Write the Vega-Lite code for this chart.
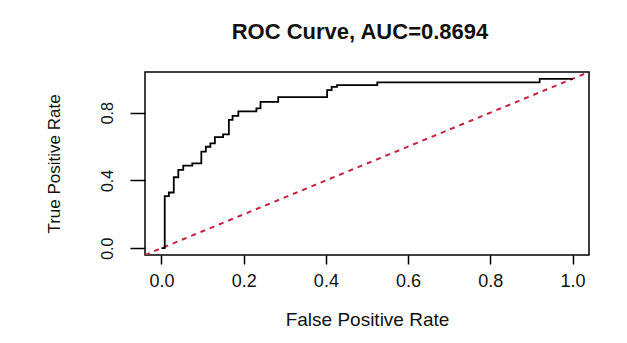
{
  "$schema": "https://vega.github.io/schema/vega-lite/v6.json",
  "width": 444,
  "height": 183,
  "autosize": {"type": "none"},
  "padding": {"left": 145, "top": 72, "right": 38, "bottom": 88},
  "background": "white",
  "title": {
    "text": "ROC Curve, AUC=0.8694",
    "font": "Liberation Sans",
    "fontSize": 22,
    "fontWeight": "bold",
    "color": "#111111",
    "anchor": "middle",
    "dx": -7,
    "offset": 28
  },
  "config": {
    "view": {"stroke": "#000000", "strokeWidth": 1.5},
    "axis": {
      "grid": false,
      "domain": false,
      "tickColor": "#000000",
      "tickWidth": 1.5,
      "labelFont": "Liberation Sans",
      "titleFont": "Liberation Sans",
      "labelColor": "#111111",
      "titleColor": "#111111",
      "titleFontWeight": "normal"
    }
  },
  "datasets": {
    "roc": [
      {"fpr": 0.0, "tpr": 0.0},
      {"fpr": 0.008, "tpr": 0.308},
      {"fpr": 0.018, "tpr": 0.329},
      {"fpr": 0.030, "tpr": 0.419},
      {"fpr": 0.041, "tpr": 0.462},
      {"fpr": 0.053, "tpr": 0.488},
      {"fpr": 0.075, "tpr": 0.501},
      {"fpr": 0.097, "tpr": 0.570},
      {"fpr": 0.108, "tpr": 0.599},
      {"fpr": 0.119, "tpr": 0.619},
      {"fpr": 0.130, "tpr": 0.656},
      {"fpr": 0.150, "tpr": 0.672},
      {"fpr": 0.164, "tpr": 0.757},
      {"fpr": 0.173, "tpr": 0.781},
      {"fpr": 0.187, "tpr": 0.808},
      {"fpr": 0.231, "tpr": 0.825},
      {"fpr": 0.241, "tpr": 0.864},
      {"fpr": 0.284, "tpr": 0.892},
      {"fpr": 0.403, "tpr": 0.933},
      {"fpr": 0.414, "tpr": 0.952},
      {"fpr": 0.427, "tpr": 0.963},
      {"fpr": 0.525, "tpr": 0.979},
      {"fpr": 0.920, "tpr": 1.0},
      {"fpr": 1.0, "tpr": 1.0}
    ],
    "diag": [
      {"fpr": -0.04, "tpr": -0.04},
      {"fpr": 1.04, "tpr": 1.04}
    ]
  },
  "layer": [
    {
      "data": {"name": "diag"},
      "mark": {"type": "line", "color": "#c8203e", "strokeWidth": 2, "strokeDash": [5, 5], "clip": true},
      "encoding": {
        "x": {"field": "fpr", "type": "quantitative"},
        "y": {"field": "tpr", "type": "quantitative"}
      }
    },
    {
      "data": {"name": "roc"},
      "mark": {"type": "line", "color": "#000000", "strokeWidth": 1.8, "interpolate": "step-after"},
      "encoding": {
        "x": {
          "field": "fpr",
          "type": "quantitative",
          "scale": {"domain": [-0.04, 1.04], "nice": false, "zero": false},
          "axis": {
            "title": "False Positive Rate",
            "values": [0, 0.2, 0.4, 0.6, 0.8, 1.0],
            "format": ".1f",
            "tickSize": 9,
            "labelFontSize": 18,
            "labelPadding": 8,
            "titleFontSize": 19,
            "titlePadding": 20
          }
        },
        "y": {
          "field": "tpr",
          "type": "quantitative",
          "scale": {"domain": [-0.04, 1.04], "nice": false, "zero": false},
          "axis": {
            "title": "True Positive Rate",
            "values": [0, 0.2, 0.4, 0.6, 0.8, 1.0],
            "labelExpr": "round(datum.value * 10) % 4 == 0 ? format(datum.value, '.1f') : ''",
            "tickSize": 15,
            "labelAngle": -90,
            "labelAlign": "center",
            "labelBaseline": "bottom",
            "labelFontSize": 16,
            "labelPadding": 15,
            "titleFontSize": 17,
            "titlePadding": 36
          }
        }
      }
    }
  ]
}
